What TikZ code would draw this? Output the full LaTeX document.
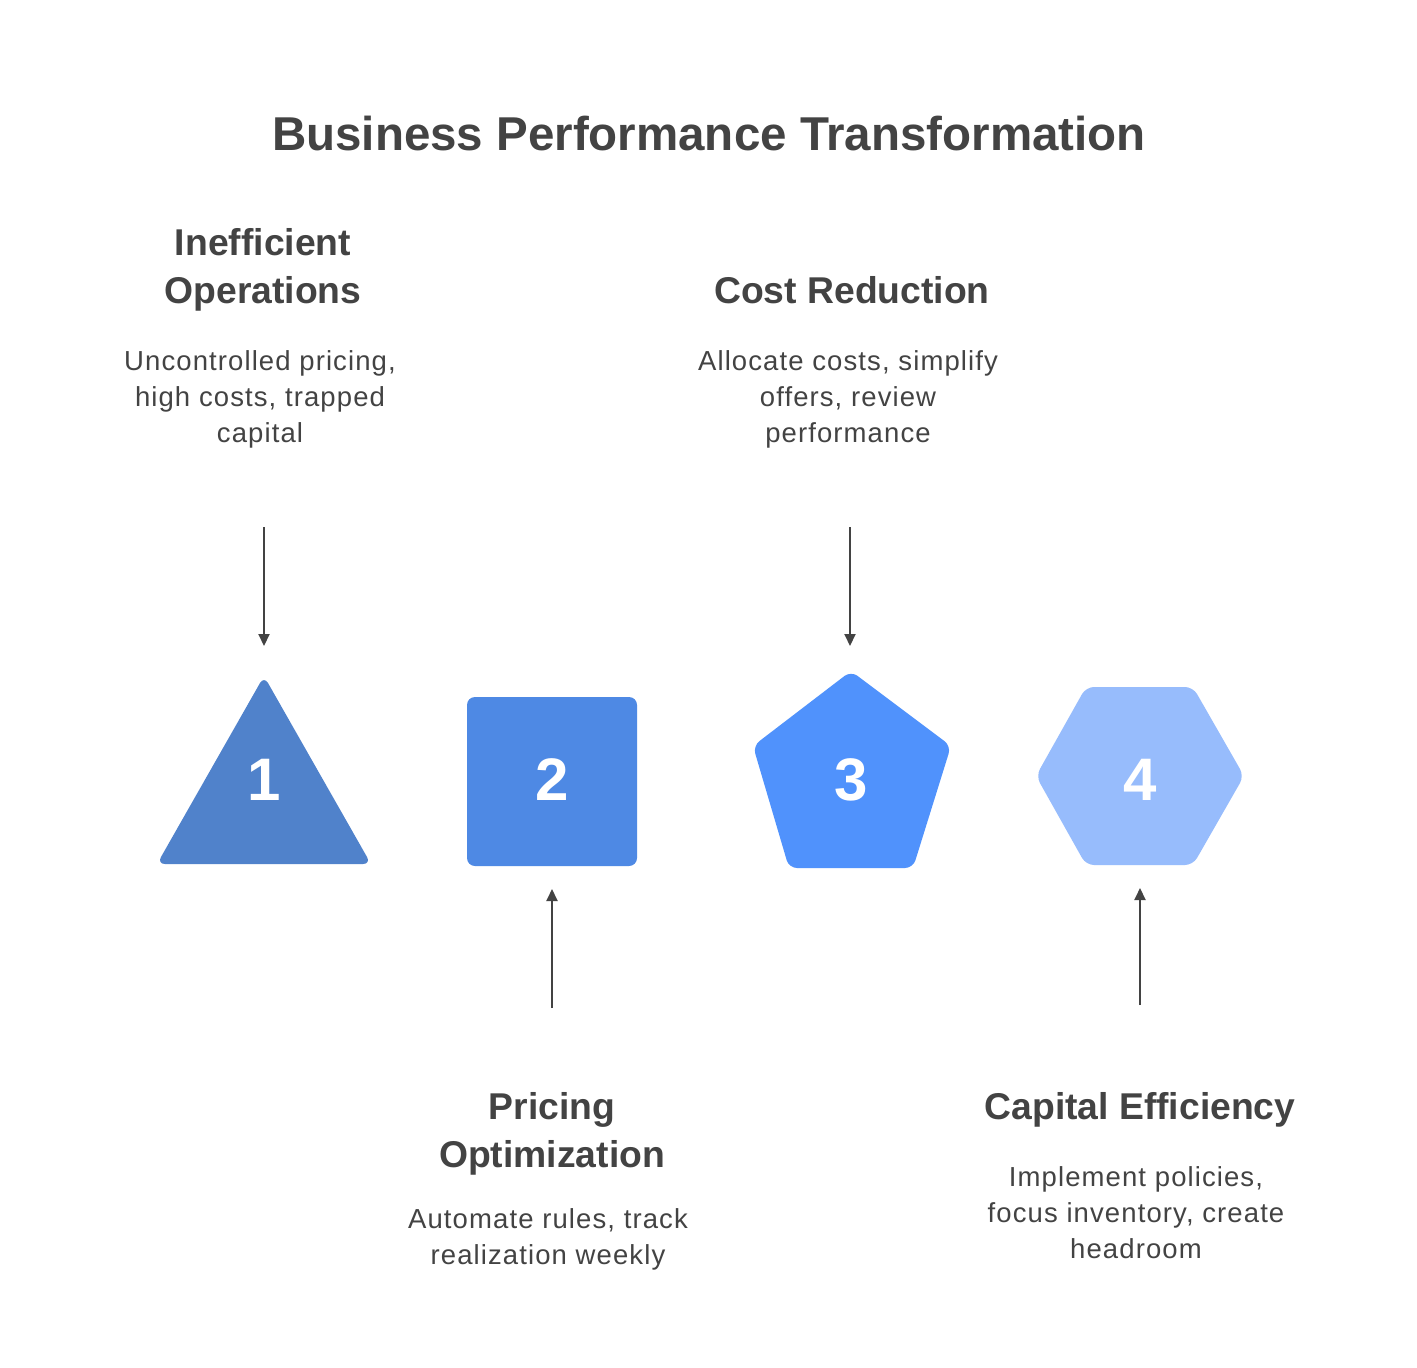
\documentclass[tikz,border=0pt]{standalone}
\usepackage{fontspec}
\setmainfont{Liberation Sans}
\newfontfamily\bodyfont[LetterSpace=4.0]{Liberation Sans}
\definecolor{txt}{HTML}{434343}
\definecolor{cA}{HTML}{5082CB}
\definecolor{cB}{HTML}{4E89E4}
\definecolor{cC}{HTML}{5092FC}
\definecolor{cD}{HTML}{97BCFC}
\tikzset{
  title/.style={anchor=base,inner sep=0pt,text=txt,font=\fontsize{47.5}{60}\selectfont\bfseries},
  head/.style={anchor=base,inner sep=0pt,text=txt,font=\fontsize{37.3}{48}\selectfont\bfseries},
  body/.style={anchor=base,inner sep=0pt,text=txt,font=\bodyfont\fontsize{27.5}{36}\selectfont},
  num/.style={inner sep=0pt,text=white,font=\fontsize{60}{60}\selectfont\bfseries},
  shp/.style={rounded corners=8pt},
  arr/.style={draw=txt,line width=2pt,-{Triangle[length=12pt,width=11pt]}},
}
\usetikzlibrary{arrows.meta}
\begin{document}
\begin{tikzpicture}[x=1pt,y=-1pt]
\useasboundingbox[fill=white] (0,0) rectangle (1417,1368);
\node[title] (t) at (709,150) {Business Performance Transformation};
% shapes
\fill[cA,shp] (264,676) -- (371,864) -- (157,864) -- cycle;
\fill[cB,shp] (467,697) rectangle (637,866);
\fill[cC,shp] (851,671) -- (951,746) -- (913,868) -- (789,868) -- (753,746) -- cycle;
\fill[cD,shp] (1086,687) -- (1193,687) -- (1244,776) -- (1193,865) -- (1086,865) -- (1036,776) -- cycle;
\node[num] (n1) at (264,780) {1};
\node[num] (n2) at (552,780) {2};
\node[num] (n3) at (851,780) {3};
\node[num] (n4) at (1140,780) {4};
% text blocks
\node[head] (h1a) at (263,255) {Inefficient};
\node[head] (h1b) at (263,303) {Operations};
\node[body] (b1a) at (260,370) {Uncontrolled pricing,};
\node[body] (b1b) at (260,406) {high costs, trapped};
\node[body] (b1c) at (260,442) {capital};
\node[head] (h3) at (852,303) {Cost Reduction};
\node[body] (b3a) at (848,370) {Allocate costs, simplify};
\node[body] (b3b) at (848,406) {offers, review};
\node[body] (b3c) at (848,442) {performance};
\node[head] (h2a) at (552,1119) {Pricing};
\node[head] (h2b) at (552,1167) {Optimization};
\node[body] (b2a) at (548,1228) {Automate rules, track};
\node[body] (b2b) at (548,1264) {realization weekly};
\node[head] (h4) at (1140,1119) {Capital Efficiency};
\node[body] (b4a) at (1136,1186) {Implement policies,};
\node[body] (b4b) at (1136,1222) {focus inventory, create};
\node[body] (b4c) at (1136,1258) {headroom};
% arrows
\coordinate (a1s) at (264,527); \coordinate (a1e) at (264,646);
\coordinate (a2s) at (552,1008); \coordinate (a2e) at (552,889);
\coordinate (a3s) at (850,527); \coordinate (a3e) at (850,646);
\coordinate (a4s) at (1140,1005); \coordinate (a4e) at (1140,888);
\draw[arr] (a1s) -- (a1e);
\draw[arr] (a2s) -- (a2e);
\draw[arr] (a3s) -- (a3e);
\draw[arr] (a4s) -- (a4e);
\end{tikzpicture}
\end{document}
